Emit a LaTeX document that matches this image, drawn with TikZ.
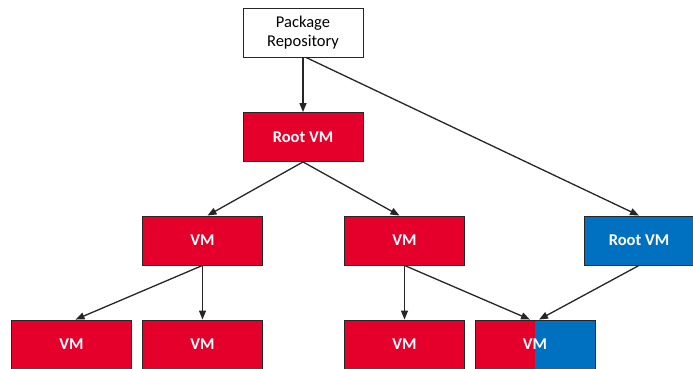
\documentclass[tikz,border=0pt]{standalone}
\usepackage{fontspec}
\setmainfont{Carlito}
\usetikzlibrary{arrows.meta}
\definecolor{vmred}{HTML}{E4002B}
\definecolor{vmblue}{HTML}{0070C0}
\definecolor{edge}{HTML}{262626}
\begin{document}
\begin{tikzpicture}[x=1pt,y=-1pt,
  box/.style={draw=edge,line width=0.9pt,minimum width=120pt,minimum height=49pt,inner sep=0pt,font=\fontsize{16.5}{19}\selectfont},
  redbox/.style={box,fill=vmred,text=white,font=\fontsize{16.5}{19}\selectfont\bfseries},
  bluebox/.style={box,fill=vmblue,text=white,font=\fontsize{16.5}{19}\selectfont\bfseries},
  conn/.style={draw=edge,line width=1.3pt,-{Triangle[length=9pt,width=7pt]}}]
\clip (0,0) rectangle (693,369);
\fill[white] (0,0) rectangle (693,369);
% top level
\node[box,align=center] (repo) at (303,32.5) {Package\\Repository};
\node[redbox] (root) at (303,137) {Root VM};
% middle row
\node[redbox] (vmL) at (202.5,240.5) {VM};
\node[redbox] (vmM) at (404.5,240.5) {VM};
\node[bluebox,minimum width=110pt] (rootB) at (639,240.5) {Root VM};
% bottom row
\node[redbox] (vm1) at (71.5,344.5) {VM};
\node[redbox] (vm2) at (202.5,344.5) {VM};
\node[redbox] (vm3) at (404.5,344.5) {VM};
\node[box,text=white,font=\fontsize{16.5}{19}\selectfont\bfseries,
  path picture={
    \fill[vmred] (path picture bounding box.north west) rectangle (path picture bounding box.south);
    \fill[vmblue] (path picture bounding box.north) rectangle (path picture bounding box.south east);
  }] (vmS) at (535,344.5) {VM};
% connectors
\draw[conn] (repo.south) -- (root.north);
\draw[conn] ([xshift=3pt]repo.south) -- (rootB.north);
\draw[conn] (root.south) -- ([xshift=5pt]vmL.north);
\draw[conn] (root.south) -- ([xshift=-5pt]vmM.north);
\draw[conn] (vmL.south) -- ([xshift=4pt]vm1.north);
\draw[conn] (vmL.south) -- (vm2.north);
\draw[conn] (vmM.south) -- (vm3.north);
\draw[conn] (vmM.south) -- ([xshift=-5pt]vmS.north);
\draw[conn] (rootB.south) -- ([xshift=4pt]vmS.north);
\end{tikzpicture}
\end{document}
